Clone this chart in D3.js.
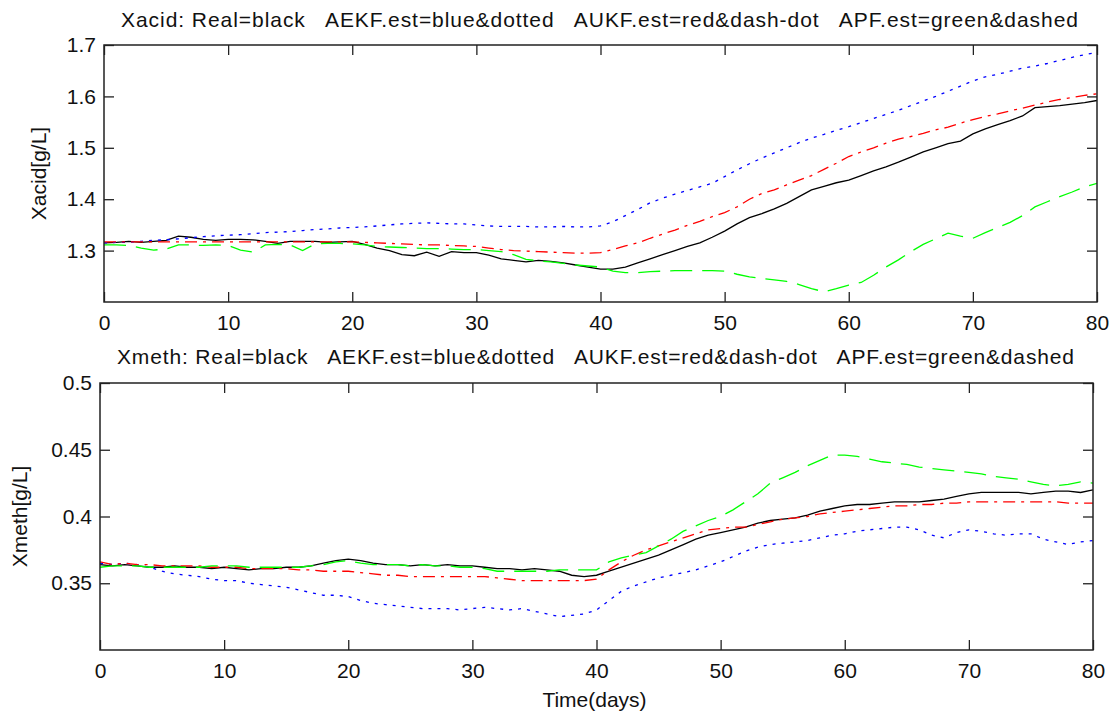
<!DOCTYPE html>
<html>
<head>
<meta charset="utf-8">
<script src="https://cdn.jsdelivr.net/npm/d3@7"></script>
<style>
  body { margin: 0; background: #fff; }
  text { font-family: "Liberation Sans", Arial, sans-serif; fill: #111; }
</style>
</head>
<body>
<div id="chart"></div>
<script>
// time axis (days), shared by both panels
var days = [0,1,2,3,4,5,6,7,8,9,10,11,12,13,14,15,16,17,18,19,20,
  21,22,23,24,25,26,27,28,29,30,31,32,33,34,35,36,37,38,39,40,
  41,42,43,44,45,46,47,48,49,50,51,52,53,54,55,56,57,58,59,60,
  61,62,63,64,65,66,67,68,69,70,71,72,73,74,75,76,77,78,79,80];

var xTicks = [0, 10, 20, 30, 40, 50, 60, 70, 80];

// Xacid panel
var acidTicks = [1.3, 1.4, 1.5, 1.6, 1.7];
var acidReal = [1.315,1.316,1.318,1.316,1.318,1.320,1.328,1.326,1.322,1.320,1.322,
  1.322,1.321,1.318,1.314,1.318,1.318,1.318,1.316,1.317,1.318,
  1.312,1.305,1.300,1.292,1.290,1.297,1.289,1.298,1.296,1.296,
  1.291,1.284,1.281,1.278,1.281,1.279,1.276,1.272,1.268,1.264,
  1.264,1.268,1.276,1.284,1.292,1.300,1.308,1.315,1.326,1.338,
  1.352,1.364,1.372,1.381,1.392,1.405,1.418,1.425,1.432,1.437,
  1.446,1.455,1.463,1.472,1.482,1.492,1.500,1.508,1.513,1.527,
  1.537,1.545,1.553,1.562,1.578,1.580,1.582,1.585,1.588,1.592];
var acidAEKF = [1.315,1.316,1.316,1.318,1.320,1.321,1.323,1.325,1.327,1.329,1.330,
  1.331,1.333,1.335,1.336,1.337,1.339,1.341,1.342,1.344,1.345,
  1.346,1.348,1.350,1.352,1.353,1.354,1.353,1.352,1.352,1.350,
  1.348,1.347,1.347,1.347,1.346,1.346,1.347,1.346,1.346,1.348,
  1.356,1.368,1.380,1.393,1.402,1.410,1.417,1.424,1.431,1.444,
  1.457,1.469,1.480,1.490,1.500,1.510,1.519,1.526,1.534,1.541,
  1.549,1.557,1.565,1.573,1.582,1.591,1.600,1.610,1.620,1.630,
  1.638,1.643,1.649,1.655,1.659,1.664,1.670,1.676,1.681,1.686];
var acidAUKF = [1.317,1.317,1.317,1.317,1.317,1.317,1.317,1.317,1.317,1.317,1.317,
  1.317,1.317,1.317,1.317,1.317,1.317,1.317,1.317,1.317,1.317,
  1.316,1.315,1.314,1.313,1.312,1.311,1.311,1.310,1.309,1.308,
  1.305,1.302,1.300,1.299,1.298,1.297,1.296,1.295,1.295,1.296,
  1.302,1.309,1.315,1.324,1.332,1.340,1.349,1.357,1.366,1.374,
  1.385,1.400,1.411,1.418,1.428,1.437,1.446,1.458,1.470,1.483,
  1.492,1.500,1.509,1.517,1.522,1.528,1.535,1.540,1.548,1.555,
  1.561,1.566,1.572,1.577,1.583,1.589,1.594,1.598,1.602,1.605];
var acidAPF = [1.311,1.311,1.310,1.305,1.301,1.303,1.311,1.311,1.310,1.311,1.310,
  1.301,1.297,1.311,1.312,1.311,1.300,1.313,1.314,1.314,1.313,
  1.311,1.308,1.307,1.306,1.305,1.304,1.304,1.303,1.302,1.302,
  1.300,1.298,1.292,1.283,1.280,1.278,1.275,1.272,1.270,1.268,
  1.260,1.257,1.257,1.259,1.260,1.261,1.261,1.261,1.261,1.260,
  1.254,1.249,1.246,1.243,1.240,1.234,1.226,1.220,1.226,1.233,
  1.238,1.252,1.268,1.282,1.298,1.312,1.323,1.334,1.328,1.324,
  1.335,1.345,1.355,1.368,1.385,1.395,1.405,1.414,1.424,1.431];

// Xmeth panel
var methTicks = [0.35, 0.4, 0.45, 0.5];
var methReal = [0.364,0.363,0.364,0.363,0.362,0.362,0.363,0.362,0.362,0.361,0.362,
  0.361,0.360,0.361,0.361,0.362,0.362,0.363,0.365,0.367,0.368,
  0.367,0.365,0.364,0.364,0.363,0.364,0.363,0.364,0.363,0.363,
  0.362,0.361,0.361,0.360,0.361,0.360,0.359,0.356,0.355,0.356,
  0.359,0.362,0.365,0.368,0.371,0.375,0.379,0.383,0.386,0.388,
  0.390,0.392,0.395,0.397,0.398,0.399,0.401,0.404,0.406,0.408,
  0.409,0.409,0.410,0.411,0.411,0.411,0.412,0.413,0.415,0.417,
  0.418,0.418,0.418,0.418,0.417,0.418,0.419,0.419,0.418,0.420];
var methAEKF = [0.365,0.364,0.365,0.364,0.362,0.359,0.357,0.356,0.355,0.353,0.352,
  0.352,0.350,0.349,0.348,0.347,0.345,0.343,0.341,0.341,0.340,
  0.337,0.335,0.334,0.333,0.332,0.331,0.331,0.331,0.330,0.331,
  0.332,0.331,0.330,0.331,0.329,0.327,0.325,0.326,0.327,0.330,
  0.337,0.344,0.348,0.351,0.354,0.356,0.358,0.360,0.363,0.366,
  0.370,0.374,0.377,0.379,0.380,0.381,0.382,0.384,0.386,0.387,
  0.389,0.390,0.391,0.392,0.392,0.390,0.386,0.384,0.388,0.390,
  0.389,0.387,0.386,0.387,0.387,0.383,0.381,0.379,0.381,0.382];
var methAUKF = [0.366,0.364,0.365,0.364,0.364,0.363,0.363,0.363,0.363,0.362,0.362,
  0.362,0.361,0.361,0.361,0.361,0.360,0.360,0.359,0.359,0.359,
  0.358,0.357,0.356,0.356,0.355,0.355,0.355,0.355,0.355,0.355,
  0.355,0.354,0.353,0.352,0.352,0.352,0.352,0.352,0.352,0.353,
  0.360,0.366,0.371,0.375,0.378,0.381,0.384,0.387,0.390,0.391,
  0.392,0.392,0.394,0.396,0.398,0.399,0.400,0.402,0.403,0.404,
  0.405,0.406,0.407,0.408,0.408,0.409,0.409,0.410,0.410,0.411,
  0.411,0.411,0.411,0.411,0.411,0.411,0.411,0.410,0.410,0.410];
var methAPF = [0.362,0.363,0.363,0.363,0.362,0.362,0.362,0.362,0.362,0.363,0.363,
  0.363,0.362,0.362,0.362,0.362,0.362,0.363,0.364,0.366,0.367,
  0.365,0.364,0.364,0.364,0.363,0.364,0.363,0.363,0.362,0.362,
  0.361,0.359,0.359,0.359,0.359,0.359,0.360,0.360,0.360,0.360,
  0.366,0.369,0.371,0.373,0.378,0.383,0.389,0.393,0.397,0.400,
  0.405,0.411,0.417,0.425,0.429,0.433,0.438,0.442,0.446,0.446,
  0.445,0.443,0.441,0.440,0.439,0.437,0.436,0.435,0.434,0.433,
  0.432,0.430,0.429,0.428,0.426,0.424,0.423,0.424,0.426,0.425];

// line styles for Real / AEKF / AUKF / APF
var styles = [
  {color: '#000000', dash: null},
  {color: '#0000ff', dash: '3,6'},
  {color: '#ff0000', dash: '12,6,3,6'},
  {color: '#00ff00', dash: '22,10'}
];

var svgWidth = 1114;
var svgHeight = 715;

var svg = d3.select('#chart')
  .append('svg')
  .attr('width', svgWidth)
  .attr('height', svgHeight);

var panels = [
  {
    left: 104, right: 1097, top: 45, bottom: 302,
    yDomain: [1.2, 1.7], yTicks: acidTicks,
    series: [acidReal, acidAEKF, acidAUKF, acidAPF],
    title: 'Xacid: Real=black   AEKF.est=blue&dotted   AUKF.est=red&dash-dot   APF.est=green&dashed',
    titleY: 27, ylabel: 'Xacid[g/L]', ylabelX: 46, xlabel: null
  },
  {
    left: 100, right: 1093, top: 383, bottom: 650,
    yDomain: [0.3, 0.5], yTicks: methTicks,
    series: [methReal, methAEKF, methAUKF, methAPF],
    title: 'Xmeth: Real=black   AEKF.est=blue&dotted   AUKF.est=red&dash-dot   APF.est=green&dashed',
    titleY: 364, ylabel: 'Xmeth[g/L]', ylabelX: 27, xlabel: 'Time(days)'
  }
];

panels.forEach(function(p, i) {
  var xScale = d3.scaleLinear().domain([0, 80]).range([p.left, p.right]);
  var yScale = d3.scaleLinear().domain(p.yDomain).range([p.bottom, p.top]);

  svg.append('clipPath')
    .attr('id', 'clip' + i)
    .append('rect')
    .attr('x', p.left)
    .attr('y', p.top)
    .attr('width', p.right - p.left)
    .attr('height', p.bottom - p.top);

  // curves
  var line = d3.line()
    .x(function(d, j) { return xScale(days[j]); })
    .y(function(d) { return yScale(d); });

  var plot = svg.append('g').attr('clip-path', 'url(#clip' + i + ')');
  p.series.forEach(function(values, k) {
    plot.append('path')
      .datum(values)
      .attr('d', line)
      .attr('fill', 'none')
      .attr('stroke', styles[k].color)
      .attr('stroke-width', 1.3)
      .attr('stroke-dasharray', styles[k].dash);
  });

  // axes, ticks pointing inward
  svg.append('g')
    .attr('transform', 'translate(0,' + p.bottom + ')')
    .call(d3.axisBottom(xScale).tickValues(xTicks).tickSizeInner(-10).tickSizeOuter(0).tickPadding(13));
  svg.append('g')
    .attr('transform', 'translate(0,' + p.top + ')')
    .call(d3.axisTop(xScale).tickValues(xTicks).tickSizeInner(-10).tickSizeOuter(0).tickFormat(''));
  svg.append('g')
    .attr('transform', 'translate(' + p.left + ',0)')
    .call(d3.axisLeft(yScale).tickValues(p.yTicks).tickSizeInner(-10).tickSizeOuter(0).tickPadding(8)
      .tickFormat(function(d) { return String(d); }));
  svg.append('g')
    .attr('transform', 'translate(' + p.right + ',0)')
    .call(d3.axisRight(yScale).tickValues(p.yTicks).tickSizeInner(-10).tickSizeOuter(0).tickFormat(''));

  svg.selectAll('.domain').remove();
  svg.selectAll('.tick line').attr('stroke', '#222').attr('stroke-width', 1.3);
  svg.selectAll('.tick text')
    .style('font-size', '21px')
    .attr('fill', '#111');

  // box
  svg.append('rect')
    .attr('x', p.left)
    .attr('y', p.top)
    .attr('width', p.right - p.left)
    .attr('height', p.bottom - p.top)
    .attr('fill', 'none')
    .attr('stroke', '#222')
    .attr('stroke-width', 1.5);

  // title
  svg.append('text')
    .attr('x', (p.left + p.right) / 2 - 1)
    .attr('y', p.titleY)
    .attr('text-anchor', 'middle')
    .attr('textLength', 957)
    .attr('lengthAdjust', 'spacing')
    .style('font-size', '21px')
    .style('white-space', 'pre')
    .text(p.title);

  // y label
  svg.append('text')
    .attr('transform', 'translate(' + p.ylabelX + ',' + ((p.top + p.bottom) / 2) + ') rotate(-90)')
    .attr('text-anchor', 'middle')
    .style('font-size', '21px')
    .text(p.ylabel);

  // x label
  if (p.xlabel) {
    svg.append('text')
      .attr('x', (p.left + p.right) / 2 - 2)
      .attr('y', 707)
      .attr('text-anchor', 'middle')
      .style('font-size', '21px')
      .text(p.xlabel);
  }
});
</script>
</body>
</html>
